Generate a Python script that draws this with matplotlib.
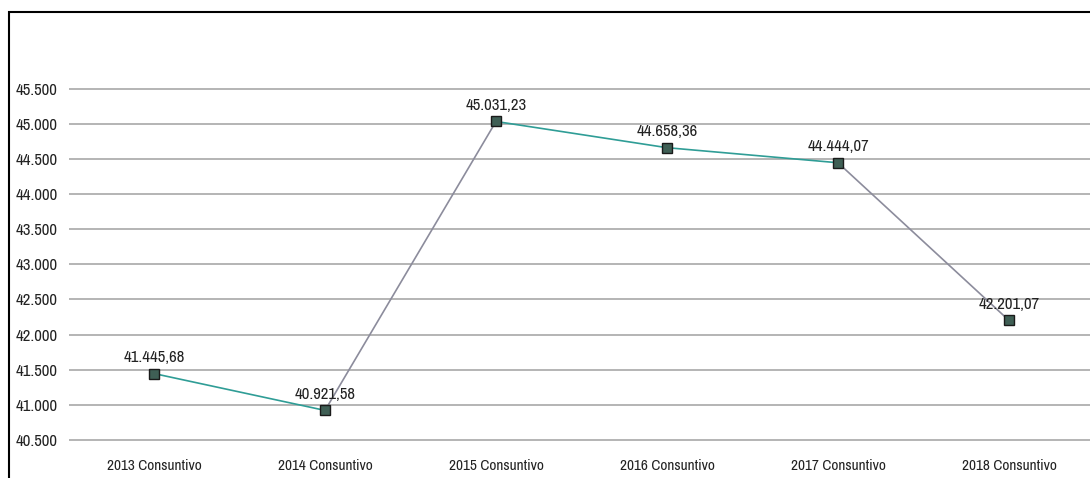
import matplotlib.pyplot as plt
from matplotlib.patches import Rectangle
from matplotlib.ticker import FuncFormatter

plt.rcParams['font.family'] = ['Archivo Narrow', 'Liberation Sans', 'DejaVu Sans']

# consuntivi annuali
years = ['2013 Consuntivo', '2014 Consuntivo', '2015 Consuntivo',
         '2016 Consuntivo', '2017 Consuntivo', '2018 Consuntivo']
values = [41445.68, 40921.58, 45031.23, 44658.36, 44444.07, 42201.07]
yticks = [40500, 41000, 41500, 42000, 42500, 43000, 43500, 44000, 44500, 45000, 45500]
seg_colors = ['#2f9d96', '#8c8c9c', '#2f9d96', '#2f9d96', '#8c8c9c']


def it_num(v, dec):
    s = f'{v:,.{dec}f}'
    return s.replace(',', 'X').replace('.', ',').replace('X', '.')


W, H = 1090, 478
fig = plt.figure(figsize=(W / 100, H / 100), dpi=100)
ax = fig.add_axes([68.5 / W, (H - 452) / H, (W - 68.5) / W, (452 - 40) / H])

x = list(range(len(years)))
for i in range(len(x) - 1):
    ax.plot(x[i:i + 2], values[i:i + 2], color=seg_colors[i], lw=1.2, zorder=3)
ax.plot(x, values, ls='none', marker='s', ms=7.5, mfc='#3f5f55', mec='#1a1a1a',
        mew=1, zorder=4)

for xi, v in zip(x, values):
    ax.annotate(it_num(v, 2), (xi, v), xytext=(0, 6), textcoords='offset points',
                ha='center', va='bottom', fontsize=12, color='#222222')

ax.set_xlim(-0.5, (W - 68.5) / 171 - 0.5)
ax.set_ylim(40330, 46190)
ax.set_yticks(yticks)
ax.yaxis.set_major_formatter(FuncFormatter(lambda v, p: it_num(v, 0)))
ax.set_xticks(x)
ax.set_xticklabels(years)
ax.tick_params(axis='both', length=0, colors='#222222')
ax.tick_params(axis='y', labelsize=12, pad=8)
ax.tick_params(axis='x', labelsize=11, pad=5)
ax.grid(axis='y', color='#a0a0a0', lw=1.1)
ax.set_axisbelow(True)
for s in ax.spines.values():
    s.set_visible(False)

# cornice esterna
fig.patches.append(Rectangle((9 / W, -0.1), 1.2, (H - 12) / H + 0.1,
                             transform=fig.transFigure, fill=False,
                             ec='black', lw=1.5))

fig.savefig('out.png', dpi=100)
